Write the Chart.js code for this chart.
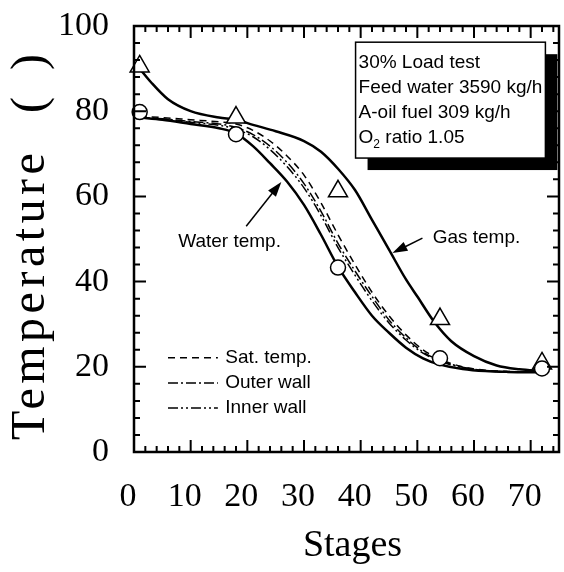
<!DOCTYPE html>
<html>
<head>
<meta charset="utf-8">
<script src="https://cdn.jsdelivr.net/npm/chart.js@4.4.0/dist/chart.umd.min.js"></script>
<style>
  html, body { margin: 0; padding: 0; background: #fff; }
</style>
</head>
<body>
<canvas id="chart" width="564" height="572"></canvas>
<script>
// Measured points (stages where temperatures were sampled)
const measStages = [1, 18, 36, 54, 72];
const gasMeasured = [90.5, 78.5, 61.2, 31.2, 20.8];
const waterMeasured = [79.8, 74.6, 43.3, 22.0, 19.6];

// Calculated gas temperature
const gasStages = [1, 3, 6, 10, 15, 18, 21, 25, 30, 33, 36, 39, 42, 45, 48, 50, 53, 56, 60, 64, 68, 72];
const gasTemp   = [90, 86.8, 82.8, 80, 78.5, 78, 76.8, 75.3, 73, 70.5, 66.5, 61.5, 54.5, 47.5, 40.5, 36.5, 30.5, 26, 22.5, 20.3, 19.4, 19];

// Calculated water side temperatures
const calcStages = [1, 5, 10, 15, 18, 21, 24, 27, 30, 33, 36, 39, 42, 45, 48, 51, 54, 58, 62, 66, 72];
const waterTemp  = [78.5, 78, 77, 76, 74.8, 71.8, 67.8, 63.5, 58, 51, 43.5, 37.5, 32, 28, 24.5, 22, 20.5, 19.5, 19, 18.8, 18.7];
const satTemp    = [78.8, 78.5, 78, 77.5, 77, 75.5, 73, 69.5, 65, 58.5, 51, 44, 37.5, 32, 27.5, 24, 21.8, 20, 19.2, 18.9, 18.7];
const outerWall  = [78.6, 78.2, 77.6, 77, 76.2, 74.5, 71.8, 68, 63, 56.5, 49, 42.5, 36.5, 31, 26.8, 23.5, 21.5, 19.9, 19.1, 18.8, 18.7];
const innerWall  = [78.5, 78.1, 77.4, 76.7, 75.8, 74, 71, 67, 62, 55.5, 48, 41.5, 35.5, 30.3, 26.3, 23.2, 21.3, 19.8, 19.1, 18.8, 18.7];

const xTicks = [0, 10, 20, 30, 40, 50, 60, 70];
const yTicks = [0, 20, 40, 60, 80, 100];

const infoLines = ['30% Load test', 'Feed water 3590 kg/h', 'A-oil fuel 309 kg/h'];

const pts = (xs, ys) => xs.map((v, i) => ({ x: v, y: ys[i] }));

const DASH_SAT = [7, 5];
const DASH_OUTER = [10, 3, 2, 3];
const DASH_INNER = [10, 3, 2, 3, 2, 3];

function curve(data, width, dash) {
  return {
    data,
    showLine: true,
    pointRadius: 0,
    borderColor: '#000',
    borderWidth: width,
    borderDash: dash,
    cubicInterpolationMode: 'monotone',
    fill: false,
  };
}

// frame with inward ticks on all four sides
const frameTicks = {
  id: 'frameTicks',
  afterDatasetsDraw(chart) {
    const { ctx, chartArea: a, scales: { x, y } } = chart;
    ctx.save();
    ctx.strokeStyle = '#000';
    ctx.lineWidth = 2;
    ctx.beginPath();
    for (let v = 0; v <= 75; v += 2) {
      const px = x.getPixelForValue(v);
      const len = v % 10 === 0 ? 12 : 6;
      ctx.moveTo(px, a.bottom); ctx.lineTo(px, a.bottom - len);
      ctx.moveTo(px, a.top); ctx.lineTo(px, a.top + len);
    }
    for (let v = 0; v <= 100; v += 4) {
      const py = y.getPixelForValue(v);
      const len = v % 20 === 0 ? 12 : 6;
      ctx.moveTo(a.left, py); ctx.lineTo(a.left + len, py);
      ctx.moveTo(a.right, py); ctx.lineTo(a.right - len, py);
    }
    ctx.stroke();
    ctx.lineWidth = 2.5;
    ctx.strokeRect(a.left, a.top, a.right - a.left, a.bottom - a.top);
    ctx.restore();
  }
};

function arrow(ctx, x0, y0, x1, y1) {
  const ang = Math.atan2(y1 - y0, x1 - x0);
  const hl = 15, hw = 5;
  ctx.beginPath();
  ctx.moveTo(x0, y0);
  ctx.lineTo(x1 - Math.cos(ang) * hl * 0.8, y1 - Math.sin(ang) * hl * 0.8);
  ctx.lineWidth = 1.5;
  ctx.stroke();
  ctx.beginPath();
  ctx.moveTo(x1, y1);
  ctx.lineTo(x1 - Math.cos(ang) * hl - Math.sin(ang) * hw, y1 - Math.sin(ang) * hl + Math.cos(ang) * hw);
  ctx.lineTo(x1 - Math.cos(ang) * hl + Math.sin(ang) * hw, y1 - Math.sin(ang) * hl - Math.cos(ang) * hw);
  ctx.closePath();
  ctx.fill();
}

const serif = '"Liberation Serif", "Times New Roman", serif';
const sans = '"Liberation Sans", Arial, sans-serif';

// axis titles, text box, legend and labels
const notes = {
  id: 'notes',
  afterDraw(chart) {
    const { ctx, chartArea: a, scales: { x, y } } = chart;
    const X = v => x.getPixelForValue(v);
    const Y = v => y.getPixelForValue(v);
    ctx.save();
    ctx.fillStyle = '#000';
    ctx.strokeStyle = '#000';

    // x axis title
    ctx.font = '38px ' + serif;
    ctx.textAlign = 'center';
    ctx.textBaseline = 'alphabetic';
    ctx.fillText('Stages', (a.left + a.right) / 2 + 6, 556);

    // y axis title (wide spaced like the original)
    ctx.save();
    ctx.translate(31, a.bottom - 12);
    ctx.rotate(-Math.PI / 2);
    ctx.font = '48px ' + serif;
    ctx.textBaseline = 'middle';
    ctx.textAlign = 'left';
    if ('letterSpacing' in ctx) ctx.letterSpacing = '4.5px';
    ctx.fillText('Temperature', 0, 0);
    ctx.letterSpacing = '0px';
    ctx.textAlign = 'center';
    ctx.fillText('(', 335, 0);
    ctx.fillText(')', 378, 0);
    ctx.restore();

    // info box with shadow
    const bx = X(39.1), by = Y(96.2);
    const bw = X(72.6) - bx, bh = Y(69) - by;
    ctx.fillRect(bx + 12, by + 12, bw, bh);
    ctx.fillStyle = '#fff';
    ctx.fillRect(bx, by, bw, bh);
    ctx.lineWidth = 1.5;
    ctx.strokeRect(bx, by, bw, bh);
    ctx.fillStyle = '#000';
    ctx.font = '19px ' + sans;
    ctx.textBaseline = 'middle';
    ctx.textAlign = 'left';
    infoLines.forEach((t, i) => ctx.fillText(t, bx + 3, by + 21 + i * 25));
    const oy = by + 21 + 3 * 25;
    ctx.fillText('O', bx + 3, oy);
    const ow = ctx.measureText('O').width;
    ctx.font = '12px ' + sans;
    ctx.fillText('2', bx + 3 + ow, oy + 6);
    const sw = ctx.measureText('2').width;
    ctx.font = '19px ' + sans;
    ctx.fillText(' ratio 1.05', bx + 3 + ow + sw, oy);

    // curve labels with arrows
    ctx.fillText('Water temp.', X(7.8), Y(49.3));
    ctx.fillText('Gas temp.', X(52.7), Y(50.2));
    arrow(ctx, X(19.8), Y(53.0), X(26.0), Y(63.4));
    arrow(ctx, X(50.9), Y(50.2), X(45.6), Y(46.7));

    // line style legend
    const legend = [['Sat. temp.', DASH_SAT, 22.1], ['Outer wall', DASH_OUTER, 16.2], ['Inner wall', DASH_INNER, 10.3]];
    ctx.lineWidth = 1.5;
    legend.forEach(([label, dash, v]) => {
      ctx.setLineDash(dash);
      ctx.beginPath();
      ctx.moveTo(X(6), Y(v));
      ctx.lineTo(X(14.8), Y(v));
      ctx.stroke();
      ctx.setLineDash([]);
      ctx.fillText(label, X(16.1), Y(v));
    });
    ctx.restore();
  }
};

new Chart(document.getElementById('chart'), {
  type: 'scatter',
  data: {
    datasets: [
      {
        data: pts(measStages, waterMeasured),
        pointStyle: 'circle', pointRadius: 7.5,
        backgroundColor: '#fff', borderColor: '#000', borderWidth: 1.5,
        showLine: false, clip: false,
      },
      {
        data: pts(measStages, gasMeasured),
        pointStyle: 'triangle', pointRadius: 11,
        backgroundColor: '#fff', borderColor: '#000', borderWidth: 1.5,
        showLine: false, clip: false,
      },
      curve(pts(gasStages, gasTemp), 2.5, []),
      curve(pts(calcStages, waterTemp), 2.5, []),
      curve(pts(calcStages, satTemp), 1.5, DASH_SAT),
      curve(pts(calcStages, outerWall), 1.5, DASH_OUTER),
      curve(pts(calcStages, innerWall), 1.5, DASH_INNER),
    ]
  },
  options: {
    responsive: false,
    animation: false,
    events: [],
    layout: { autoPadding: false, padding: { top: 26, right: 5, left: 0, bottom: 0 } },
    plugins: { legend: { display: false }, tooltip: { enabled: false } },
    scales: {
      x: {
        type: 'linear', min: 0, max: 75,
        grid: { display: false }, border: { display: false },
        afterBuildTicks: s => { s.ticks = xTicks.map(v => ({ value: v })); },
        ticks: { padding: 17, labelOffset: -6, color: '#000', maxRotation: 0, font: { family: serif, size: 34 } },
        afterFit: s => { s.height = 120; s.paddingLeft = 0; s.paddingRight = 0; },
      },
      y: {
        type: 'linear', min: 0, max: 100,
        grid: { display: false }, border: { display: false },
        afterBuildTicks: s => { s.ticks = yTicks.map(v => ({ value: v })); },
        ticks: { padding: 17, color: '#000', font: { family: serif, size: 34 } },
        afterFit: s => { s.width = 134; s.paddingTop = 0; s.paddingBottom = 0; },
      },
    },
  },
  plugins: [frameTicks, notes],
});
</script>
</body>
</html>
